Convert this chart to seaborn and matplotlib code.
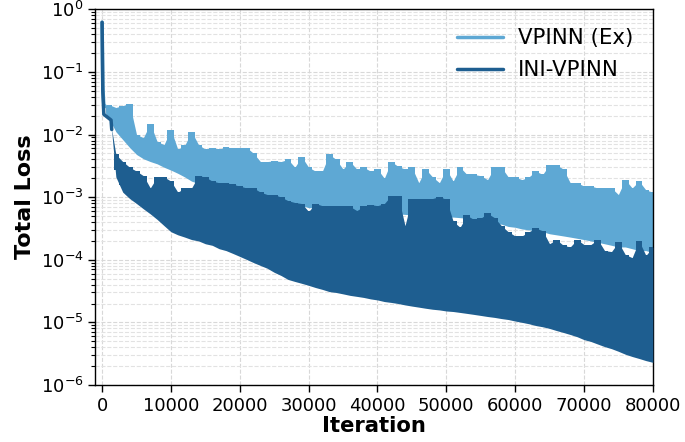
import matplotlib
matplotlib.use("Agg")
import numpy as np
import matplotlib.pyplot as plt
import seaborn as sns
from matplotlib.ticker import LogLocator, NullFormatter, FixedLocator

sns.set_style("ticks")
plt.rcParams['font.family'] = ['DejaVu Sans']
plt.rcParams['text.color'] = 'black'
plt.rcParams['axes.labelcolor'] = 'black'

# ---- loss history -------------------------------------------------------
# first few hundred iterations (single curve before the oscillation starts)
early_iter_ex = [0, 100, 250, 500]
early_loss_ex = [0.62, 0.06, 0.03, 0.028]
early_iter_ini = [0, 100, 250, 1300, 1400]
early_loss_ini = [0.62, 0.05, 0.021, 0.017, 0.012]

# per-1000-iteration envelope (min / max) of the oscillating loss
iter_ex = [500, 1000] + list(range(2000, 80001, 1000))
upper_ex = [0.028, 0.030,
            0.027, 0.029, 0.031, 0.0100, 0.0089, 0.0149, 0.0077, 0.0069, 0.0120,
            0.0058, 0.0067, 0.0111, 0.0069, 0.0058, 0.0062, 0.0058, 0.0064, 0.0060, 0.0062,
            0.0062, 0.0050, 0.0037, 0.0037, 0.0038, 0.0037, 0.0040, 0.0030, 0.0044, 0.0030,
            0.0026, 0.0026, 0.0048, 0.0040, 0.0028, 0.0037, 0.0028, 0.0030, 0.0026, 0.0028,
            0.0020, 0.0037, 0.0031, 0.0028, 0.0030, 0.0017, 0.0028, 0.0021, 0.0017, 0.0028,
            0.0018, 0.0030, 0.0023, 0.0023, 0.0022, 0.0019, 0.0030, 0.0030, 0.0021, 0.0021,
            0.0019, 0.0021, 0.0026, 0.0023, 0.0033, 0.0033, 0.0028, 0.0017, 0.0017, 0.0015,
            0.0015, 0.0014, 0.0014, 0.0014, 0.0011, 0.0019, 0.0014, 0.0018, 0.0013, 0.0012]
lower_ex = [0.022, 0.018,
            0.0111, 0.0083, 0.0062, 0.0048, 0.0041, 0.0037, 0.0034, 0.0030, 0.0027,
            0.0024, 0.0021, 0.0018, 0.00165, 0.00159, 0.00148, 0.00142, 0.00132, 0.00127, 0.00118,
            0.00114, 0.00106, 0.00102, 0.00095, 0.00092, 0.00085, 0.00082, 0.00076, 0.00073, 0.00068,
            0.00067, 0.00066, 0.00064, 0.00063, 0.00061, 0.00060, 0.00059, 0.00058, 0.00057, 0.00056,
            0.00055, 0.00054, 0.00054, 0.00053, 0.00052, 0.00051, 0.00051, 0.00050, 0.00049, 0.00048,
            0.00048, 0.00047, 0.00046, 0.00042, 0.00041, 0.00039, 0.00038, 0.00037, 0.00034, 0.00033,
            0.00031, 0.00030, 0.00029, 0.00028, 0.00026, 0.00025, 0.00024, 0.00023, 0.00022, 0.00021,
            0.00020, 0.00019, 0.00018, 0.00017, 0.00016, 0.00016, 0.00015, 0.00014, 0.00014, 0.00013]

iter_ini = [1400] + list(range(2000, 80001, 1000))
upper_ini = [0.012,
             0.0048, 0.0037, 0.0030, 0.0026, 0.0022, 0.0014, 0.0021, 0.0021, 0.0018,
             0.0012, 0.0014, 0.0014, 0.0022, 0.0021, 0.0018, 0.0017, 0.0017, 0.0016, 0.0015,
             0.0014, 0.0014, 0.0012, 0.0011, 0.0011, 0.0010, 0.00088, 0.00082, 0.00079, 0.00059,
             0.00079, 0.00073, 0.00073, 0.00071, 0.00073, 0.00071, 0.00061, 0.00071, 0.00076, 0.00073,
             0.00079, 0.00106, 0.00106, 0.00035, 0.00095, 0.00092, 0.00092, 0.00095, 0.00102, 0.00092,
             0.00041, 0.00033, 0.00051, 0.00044, 0.00046, 0.00055, 0.00047, 0.00035, 0.00028, 0.00024,
             0.00024, 0.00028, 0.00032, 0.00029, 0.00018, 0.00021, 0.00017, 0.00016, 0.00021, 0.000175,
             0.000175, 0.00021, 0.00014, 0.000135, 0.00019, 0.000121, 0.000108, 0.00020, 0.000117, 0.00016]
lower_ini = [0.011,
             0.0021, 0.0012, 0.00095, 0.00079, 0.00065, 0.00054, 0.00044, 0.00035, 0.00028,
             0.00025, 0.00023, 0.00021, 0.00020, 0.00018, 0.00017, 0.00015, 0.00014, 0.000126, 0.000113,
             0.000101, 9.0e-5, 8.1e-5, 7.3e-5, 6.3e-5, 5.6e-5, 4.85e-5, 4.5e-5, 4.2e-5, 3.9e-5,
             3.6e-5, 3.36e-5, 3.1e-5, 3.0e-5, 2.85e-5, 2.7e-5, 2.6e-5, 2.5e-5, 2.37e-5, 2.28e-5,
             2.15e-5, 2.08e-5, 2.0e-5, 1.9e-5, 1.82e-5, 1.75e-5, 1.68e-5, 1.62e-5, 1.58e-5, 1.52e-5,
             1.49e-5, 1.44e-5, 1.39e-5, 1.34e-5, 1.29e-5, 1.24e-5, 1.2e-5, 1.15e-5, 1.11e-5, 1.05e-5,
             1.0e-5, 9.5e-6, 8.9e-6, 8.5e-6, 8.0e-6, 7.4e-6, 6.9e-6, 6.4e-6, 5.9e-6, 5.3e-6,
             4.95e-6, 4.5e-6, 4.1e-6, 3.8e-6, 3.45e-6, 3.1e-6, 2.85e-6, 2.65e-6, 2.45e-6, 2.3e-6]

labels = ["VPINN (Ex)", "INI-VPINN"]
colors = ["#5ea8d4", "#1e5e90"]

# ---- figure -------------------------------------------------------------
fig = plt.figure(figsize=(6.85, 4.42), dpi=100)
ax = fig.add_axes([0.139, 0.129, 0.814, 0.850])
ax.set_axisbelow(True)


def draw_band(it, lo, hi, color, z):
    """Shade the min/max envelope; the ragged top is drawn as steps."""
    it = np.asarray(it, float)
    lo = np.asarray(lo, float)
    hi = np.asarray(hi, float)
    ax.fill_between(it, lo, hi, color=color, lw=0, zorder=z)
    base = np.minimum(lo * 1.3, hi)
    ax.fill_between(it, base, hi, step="mid", color=color, lw=0, zorder=z)


draw_band(iter_ex, lower_ex, upper_ex, colors[0], 2)
draw_band(iter_ini, lower_ini, upper_ini, colors[1], 3)

sns.lineplot(x=early_iter_ex, y=early_loss_ex, ax=ax, color=colors[0],
             lw=2.5, label=labels[0], zorder=4)
sns.lineplot(x=early_iter_ini, y=early_loss_ini, ax=ax, color=colors[1],
             lw=2.5, label=labels[1], zorder=5)

ax.set_yscale("log")
ax.set_ylim(1e-6, 1)
ax.set_xlim(-1000, 80000)
ax.xaxis.set_major_locator(FixedLocator(list(range(0, 80001, 10000))))
ax.yaxis.set_major_locator(LogLocator(base=10, numticks=10))
ax.yaxis.set_minor_locator(LogLocator(base=10, subs=np.arange(2, 10), numticks=20))
ax.yaxis.set_minor_formatter(NullFormatter())

ax.grid(True, which="major", axis="both", ls="--", lw=0.8, color="#d8d8d8")
ax.grid(True, which="minor", axis="y", ls="--", lw=0.8, color="#e2e2e2")

for s in ax.spines.values():
    s.set_color("black")
    s.set_linewidth(1.0)
    s.set_visible(True)

ax.tick_params(axis="both", which="major", direction="out", length=5, width=1,
               labelsize=13, colors="black")
ax.tick_params(axis="y", which="minor", direction="out", length=3, width=0.8,
               colors="black")

ax.set_xlabel("Iteration", fontsize=15.2, fontweight="bold", labelpad=1)
ax.set_ylabel("Total Loss", fontsize=16, fontweight="bold", labelpad=4)

ax.legend(loc="upper right", frameon=False, fontsize=15.3, handlelength=2.2,
          handletextpad=0.7, labelspacing=0.55)

fig.savefig("out.png", dpi=100)
